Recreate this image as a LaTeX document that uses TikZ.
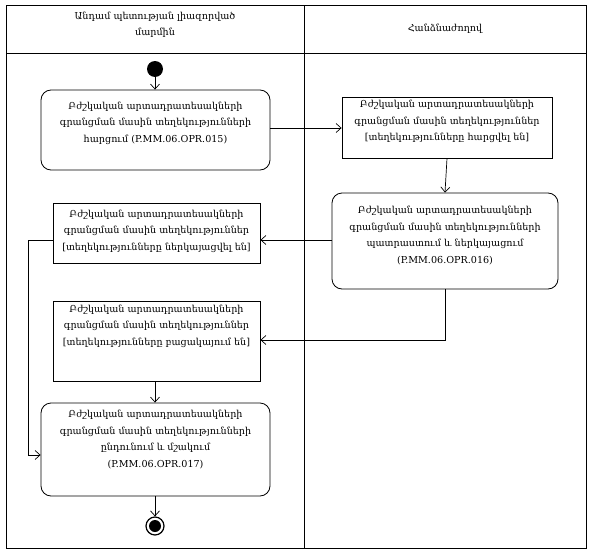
\documentclass[tikz,border=0pt]{standalone}
\usepackage{fontspec}
\setmainfont{DejaVu Serif}
\usetikzlibrary{arrows.meta,calc}
\begin{document}
\begin{tikzpicture}[x=1pt,y=-1pt,
  lane/.style={draw,line width=0.9pt},
  act/.style={draw,line width=0.8pt,rounded corners=10pt,inner sep=0pt},
  obj/.style={draw,line width=0.8pt,inner sep=0pt},
  txt/.style={align=center,inner sep=0pt,font=\fontsize{9.6}{16.5}\selectfont},
  conn/.style={line width=0.7pt,-{Straight Barb[length=5pt,width=9pt]}},
  every node/.style={font=\fontsize{9.6}{16.5}\selectfont}]
\useasboundingbox (0,0) rectangle (592,554);
% swimlanes
\draw[lane] (6,5) rectangle (586,548);
\draw[lane] (6,53) -- (586,53);
\draw[lane] (304,5) -- (304,548);
\node[txt] (h1) at (155,25) {Անդամ պետության լիազորված\\մարմին};
\node[txt] (h2) at (445,29) {Հանձնաժողով};
% start / end
\node[circle,fill=black,minimum size=16pt,inner sep=0pt] (start) at (155,69) {};
\node[circle,draw,line width=1.2pt,minimum size=18pt,inner sep=0pt] (end) at (155,526) {};
\node[circle,fill=black,minimum size=12pt,inner sep=0pt] (endin) at (155,526) {};
% boxes
\node[act,minimum width=229pt,minimum height=80pt] (b1) at (155.5,130) {};
\node[txt] (t1) at ($(b1.center)+(0,-7)$) {Բժշկական արտադրատեսակների\\գրանցման մասին տեղեկությունների\\հարցում (P.MM.06.OPR.015)};
\node[obj,minimum width=210pt,minimum height=61pt] (b2) at (447,127.5) {};
\node[txt] (t2) at ($(b2.center)+(0,-6)$) {Բժշկական արտադրատեսակների\\գրանցման մասին տեղեկություններ\\{[}տեղեկությունները հարցվել են{]}};
\node[act,minimum width=226pt,minimum height=96pt] (b3) at (445,241) {};
\node[txt] (t3) at ($(b3.center)+(0,-5.5)$) {Բժշկական արտադրատեսակների\\գրանցման մասին տեղեկությունների\\պատրաստում և ներկայացում\\(P.MM.06.OPR.016)};
\node[obj,minimum width=207pt,minimum height=60pt] (b4) at (156.5,233) {};
\node[txt] (t4) at ($(b4.center)+(0,-2)$) {Բժշկական արտադրատեսակների\\գրանցման մասին տեղեկություններ\\{[}տեղեկությունները ներկայացվել են{]}};
\node[obj,minimum width=207pt,minimum height=80pt] (b5) at (156.5,341) {};
\node[txt] (t5) at ($(b5.center)+(0,-15)$) {Բժշկական արտադրատեսակների\\գրանցման մասին տեղեկություններ\\{[}տեղեկությունները բացակայում են{]}};
\node[act,minimum width=229pt,minimum height=93pt] (b6) at (155.5,449.5) {};
\node[txt] (t6) at ($(b6.center)+(0,-10)$) {Բժշկական արտադրատեսակների\\գրանցման մասին տեղեկությունների\\ընդունում և մշակում\\(P.MM.06.OPR.017)};
% connectors
\draw[conn] (start) -- (start |- b1.north);
\draw[conn] (b1.east |- 0,128) -- (b2.west |- 0,128);
\draw[conn] (b2.south) -- (b3.north);
\draw[conn] (b3.west |- 0,240) -- (b4.east |- 0,240);
\draw[conn] (b3.south) |- (b5.east |- 0,340);
\draw[conn] (b4.west |- 0,240) -- (28,240) |- (b6.west |- 0,455);
\draw[conn] (b5.south -| 155,0) -- (b6.north -| 155,0);
\draw[conn] (b6.south -| 155,0) -- (end.north);
\end{tikzpicture}
\end{document}
